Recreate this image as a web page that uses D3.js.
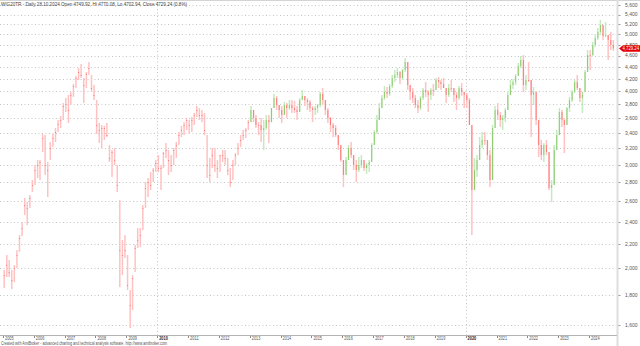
<!DOCTYPE html>
<html>
<head>
<meta charset="utf-8">
<script src="https://cdn.jsdelivr.net/npm/d3@7"></script>
<style>
  html, body { margin: 0; padding: 0; background: #fff; }
  svg { display: block; font-family: "Liberation Sans", Arial, sans-serif; }
</style>
</head>
<body>
<svg id="chart" width="640" height="346"></svg>
<script>
// WIG20TR, monthly ranges (Jan 2005 - Oct 2024)
const firstYear = 2005;
// before this date only closing prices are stored (open == close)
const ohlcFrom = new Date(2013, 0, 1);

const high = [
  1987, 2107, 2066, 1987, 2026, 2148, 2278, 2397, 2634, 2592, 2665, 2826, // 2005
  2997, 3056, 3056, 3384, 3370, 3032, 3279, 3384, 3464, 3574, 3631, 3820, // 2006
  3896, 3942, 3989, 4115, 4246, 4381, 4450, 4213, 4313, 4485, 4263, 4099, // 2007
  3865, 3533, 3505, 3491, 3533, 3241, 3178, 3203, 2997, 2613, 2234, 2278, // 2008
  2107, 1837, 1948, 2191, 2341, 2341, 2562, 2804, 2848, 2916, 2962, 3056, // 2009
  3116, 2997, 3153, 3266, 3178, 3116, 3203, 3279, 3410, 3491, 3545, 3603, // 2010
  3574, 3617, 3674, 3775, 3745, 3717, 3674, 3370, 3080, 3203, 3203, 3056, // 2011
  3116, 3178, 3178, 3080, 2962, 3056, 3141, 3266, 3370, 3437, 3464, 3574, // 2012
  3775, 3717, 3645, 3545, 3603, 3574, 3645, 3645, 3745, 3958, 3927, 3790, // 2013
  3775, 3835, 3820, 3865, 3865, 3850, 3775, 3896, 4020, 3927, 3896, 3865, // 2014
  3775, 3775, 3805, 3989, 4051, 3865, 3745, 3617, 3533, 3505, 3370, 3241, // 2015
  3056, 3092, 3241, 3279, 3116, 3056, 3092, 3116, 3056, 3020, 3056, 3266, // 2016
  3437, 3645, 3820, 3942, 4083, 4067, 4115, 4263, 4347, 4381, 4330, 4364, // 2017
  4556, 4485, 4099, 4051, 3942, 3865, 3927, 4051, 4147, 4020, 4051, 4115, // 2018
  4213, 4230, 4180, 4213, 4051, 4115, 4180, 4051, 3989, 4083, 4131, 3989, // 2019
  3973, 3896, 3505, 3080, 3116, 3344, 3410, 3410, 3305, 3178, 3505, 3775, // 2020
  3820, 3688, 3645, 3745, 3989, 4180, 4197, 4280, 4468, 4592, 4610, 4263, // 2021
  4485, 4180, 4067, 3989, 3574, 3305, 3266, 3305, 3153, 2826, 3241, 3437, // 2022
  3745, 3717, 3603, 3760, 3911, 4020, 4180, 4263, 4051, 3942, 4347, 4701, // 2023
  4701, 4852, 5005, 5125, 5287, 5184, 5246, 4985, 5045, 4889              // 2024
];

const low = [
  1851, 1933, 1933, 1844, 1895, 2003, 2131, 2269, 2464, 2369, 2533, 2696, // 2005
  2771, 2848, 2826, 3153, 2882, 2644, 3056, 3216, 3279, 3410, 3464, 3574, // 2006
  3688, 3533, 3790, 3911, 4051, 4180, 4213, 3820, 4051, 4263, 3989, 3865, // 2007
  3384, 3266, 3203, 3305, 3344, 3032, 2860, 2997, 2696, 1858, 1948, 2082, // 2008
  1837, 1583, 1699, 1971, 2165, 2174, 2323, 2533, 2644, 2717, 2804, 2916, // 2009
  2916, 2717, 2962, 3080, 2882, 2916, 2997, 3080, 3241, 3344, 3370, 3437, // 2010
  3384, 3410, 3505, 3617, 3574, 3547, 3370, 2848, 2804, 2962, 2916, 2848, // 2011
  2916, 3032, 2997, 2882, 2749, 2826, 2997, 3116, 3216, 3305, 3331, 3437, // 2012
  3545, 3545, 3464, 3370, 3279, 3178, 3437, 3266, 3545, 3745, 3717, 3603, // 2013
  3533, 3645, 3603, 3717, 3674, 3674, 3574, 3688, 3865, 3775, 3717, 3688, // 2014
  3545, 3645, 3674, 3760, 3790, 3645, 3533, 3410, 3344, 3344, 3178, 3032, // 2015
  2749, 2882, 3056, 3080, 2939, 2804, 2916, 2962, 2928, 2893, 2916, 3032, // 2016
  3241, 3384, 3574, 3745, 3865, 3896, 3927, 4051, 4147, 4213, 4115, 4180, // 2017
  4313, 4020, 3865, 3820, 3745, 3674, 3717, 3865, 3911, 3688, 3865, 3927, // 2018
  4020, 4051, 4020, 4051, 3820, 3911, 3989, 3835, 3717, 3865, 3927, 3745, // 2019
  3745, 3505, 2278, 2717, 2860, 3056, 3203, 3241, 3056, 2749, 2826, 3464, // 2020
  3574, 3478, 3437, 3545, 3717, 3942, 4035, 4099, 4246, 4381, 3989, 4020, // 2021
  4147, 3344, 3790, 3505, 3092, 3056, 3032, 3116, 2717, 2592, 2771, 3178, // 2022
  3370, 3478, 3141, 3505, 3688, 3835, 3973, 4020, 3835, 3674, 3989, 4313, // 2023
  4347, 4592, 4757, 4889, 4985, 4889, 4947, 4520, 4701, 4682              // 2024
];

const close = [
  1948, 2026, 1971, 1910, 2003, 2107, 2252, 2341, 2562, 2533, 2634, 2771, // 2005
  2939, 2997, 3032, 3331, 2997, 2939, 3203, 3331, 3410, 3519, 3574, 3775, // 2006
  3805, 3717, 3942, 4083, 4213, 4313, 4263, 4099, 4280, 4381, 4051, 3942, // 2007
  3505, 3437, 3464, 3464, 3370, 3080, 3153, 3056, 2771, 2148, 2107, 2148, // 2008
  1873, 1732, 1925, 2165, 2234, 2278, 2533, 2739, 2804, 2771, 2939, 3020, // 2009
  2962, 2962, 3141, 3178, 3056, 2997, 3178, 3241, 3370, 3437, 3505, 3574, // 2010
  3505, 3574, 3645, 3717, 3645, 3645, 3437, 2997, 2882, 3116, 2997, 2962, // 2011
  3116, 3116, 3080, 2939, 2804, 2997, 3116, 3203, 3305, 3370, 3437, 3545, // 2012
  3717, 3603, 3505, 3505, 3437, 3464, 3574, 3545, 3745, 3896, 3790, 3717, // 2013
  3645, 3790, 3745, 3790, 3745, 3717, 3688, 3865, 3927, 3865, 3835, 3745, // 2014
  3717, 3745, 3790, 3958, 3865, 3717, 3603, 3505, 3464, 3370, 3241, 3056, // 2015
  2882, 3056, 3203, 3116, 2997, 2939, 2997, 3056, 2962, 2997, 3032, 3241, // 2016
  3410, 3574, 3745, 3896, 3989, 3958, 4083, 4213, 4263, 4313, 4213, 4347, // 2017
  4485, 4099, 3989, 3896, 3790, 3745, 3896, 4020, 3989, 3942, 4020, 4020, // 2018
  4180, 4147, 4115, 4051, 3942, 4051, 4051, 3942, 3896, 4051, 3989, 3942, // 2019
  3865, 3505, 2717, 2939, 3056, 3241, 3305, 3305, 3116, 2826, 3464, 3717, // 2020
  3645, 3574, 3603, 3717, 3942, 4099, 4147, 4246, 4416, 4520, 4099, 4180, // 2021
  4180, 3942, 3989, 3574, 3241, 3116, 3241, 3153, 2739, 2771, 3178, 3370, // 2022
  3688, 3574, 3505, 3745, 3865, 3989, 4147, 4051, 3896, 3989, 4313, 4610, // 2023
  4610, 4794, 4927, 5045, 5184, 4966, 4985, 4889, 4794, 4729.24           // 2024
];

// last session: date, open, high, low, close, change %
const lastSession = ["28.10.2024", 4749.92, 4770.08, 4702.94, 4729.24, 0.8];

const priceTicks = [1600, 1800, 2000, 2200, 2400, 2600, 2800, 3000, 3200, 3400,
  3600, 3800, 4000, 4200, 4400, 4600, 4800, 5000, 5200, 5400, 5600];
const yearTicks = d3.range(2005, 2025);
const markedYears = [2010, 2020];

const W = 640, H = 346;
const plotRight = 617, plotBottom = 335;

const svg = d3.select("#chart");

const x = d3.scaleTime()
  .domain([new Date(2005, 0, 1), new Date(2024, 0, 1)])
  .range([3, 589]);
const y = d3.scaleLog()
  .domain([1600, 5600])
  .range([325.3, 5.3]);

const bars = high.map((h, i) => {
  const date = new Date(firstYear, i, 15);
  const c = close[i];
  const o = (date < ohlcFrom || i === 0) ? c : close[i - 1];
  return { date, high: h, low: low[i], open: o, close: c, up: c > o };
});

// frame
svg.append("rect").attr("x", 0).attr("y", 0).attr("width", W).attr("height", H).attr("fill", "#fff");
svg.append("line").attr("x1", 0).attr("x2", W).attr("y1", 0.5).attr("y2", 0.5)
  .attr("stroke", "#d4d4d4");

// dotted grid
const grid = svg.append("g").attr("stroke", "#c4c4c4").attr("stroke-dasharray", "1,2.5");
grid.selectAll("line.h").data(priceTicks).join("line")
  .attr("class", "h")
  .attr("x1", 0).attr("x2", plotRight - 1)
  .attr("y1", d => Math.round(y(d)) + 0.5).attr("y2", d => Math.round(y(d)) + 0.5);
grid.selectAll("line.v").data(markedYears).join("line")
  .attr("class", "v")
  .attr("x1", d => Math.round(x(new Date(d, 0, 1))) + 0.5)
  .attr("x2", d => Math.round(x(new Date(d, 0, 1))) + 0.5)
  .attr("y1", 2).attr("y2", plotBottom);

// candles: light range line plus thin coloured body
const candles = svg.append("g");
candles.selectAll("rect.wick").data(bars).join("rect")
  .attr("class", "wick")
  .attr("x", d => x(d.date) - 0.75)
  .attr("width", 1.5)
  .attr("y", d => y(d.high))
  .attr("height", d => y(d.low) - y(d.high))
  .attr("fill", d => d.up ? "#c4ebbf" : "#ffc2c2");
candles.selectAll("rect.body").data(bars).join("rect")
  .attr("class", "body")
  .attr("x", d => x(d.date) - 0.5)
  .attr("width", 1)
  .attr("y", d => y(Math.max(d.open, d.close)))
  .attr("height", d => Math.max(1, Math.abs(y(d.open) - y(d.close))))
  .attr("fill", d => d.up ? "#5aae22" : "#ff3030")
  .attr("opacity", 0.5);

// right axis
svg.append("rect").attr("x", plotRight - 0.5).attr("y", 0).attr("width", 2).attr("height", H)
  .attr("fill", "#dedede");
const yAxis = svg.append("g");
yAxis.selectAll("line").data(priceTicks).join("line")
  .attr("x1", plotRight + 1.5).attr("x2", plotRight + 3.5)
  .attr("y1", d => Math.round(y(d)) + 0.5).attr("y2", d => Math.round(y(d)) + 0.5)
  .attr("stroke", "#9a9a9a");
yAxis.selectAll("text").data(priceTicks).join("text")
  .attr("x", 625).attr("y", d => y(d) + 1.9)
  .attr("font-size", 5.2).attr("fill", "#555")
  .attr("textLength", 12.5).attr("lengthAdjust", "spacingAndGlyphs")
  .text(d => d3.format(",")(d));

// bottom axis
svg.append("line").attr("x1", 0).attr("x2", plotRight).attr("y1", plotBottom + 0.5).attr("y2", plotBottom + 0.5)
  .attr("stroke", "#b4b4b4");
const xAxis = svg.append("g");
xAxis.selectAll("line").data(yearTicks).join("line")
  .attr("x1", d => Math.round(x(new Date(d, 0, 1))) + 0.5)
  .attr("x2", d => Math.round(x(new Date(d, 0, 1))) + 0.5)
  .attr("y1", plotBottom + 1).attr("y2", plotBottom + 3)
  .attr("stroke", "#8a8a8a");
xAxis.selectAll("text").data(yearTicks).join("text")
  .attr("x", d => x(new Date(d, 0, 1)) + 2)
  .attr("y", 340.3)
  .attr("font-size", 4.8)
  .attr("fill", d => markedYears.includes(d) ? "#222" : "#555")
  .attr("font-weight", d => markedYears.includes(d) ? "bold" : "normal")
  .attr("textLength", 8.6).attr("lengthAdjust", "spacingAndGlyphs")
  .text(d => d);

// title
const fmt2 = d3.format(".2f");
svg.append("text")
  .attr("x", 1).attr("y", 6)
  .attr("font-size", 5).attr("fill", "#444")
  .attr("textLength", 186).attr("lengthAdjust", "spacingAndGlyphs")
  .text(`WIG20TR - Daily ${lastSession[0]} Open ${fmt2(lastSession[1])}, Hi ${fmt2(lastSession[2])}, Lo ${fmt2(lastSession[3])}, Close ${fmt2(lastSession[4])} (${lastSession[5]}%)`);

// credit line
svg.append("text")
  .attr("x", 1).attr("y", 345.3)
  .attr("font-size", 4.6).attr("fill", "#555")
  .attr("textLength", 166).attr("lengthAdjust", "spacingAndGlyphs")
  .text("Created with AmiBroker - advanced charting and technical analysis software. http://www.amibroker.com");

// last close marker
const yc = y(lastSession[4]);
svg.append("path")
  .attr("d", `M${plotRight + 2},${yc} L${plotRight + 6},${yc - 3.2} L${W},${yc - 3.2} L${W},${yc + 3.2} L${plotRight + 6},${yc + 3.2} Z`)
  .attr("fill", "#e40000");
svg.append("text")
  .attr("x", 622.5).attr("y", yc + 1.9)
  .attr("font-size", 5.2).attr("fill", "#fff")
  .attr("textLength", 16.5).attr("lengthAdjust", "spacingAndGlyphs")
  .text(d3.format(",.2f")(lastSession[4]));
</script>
</body>
</html>
